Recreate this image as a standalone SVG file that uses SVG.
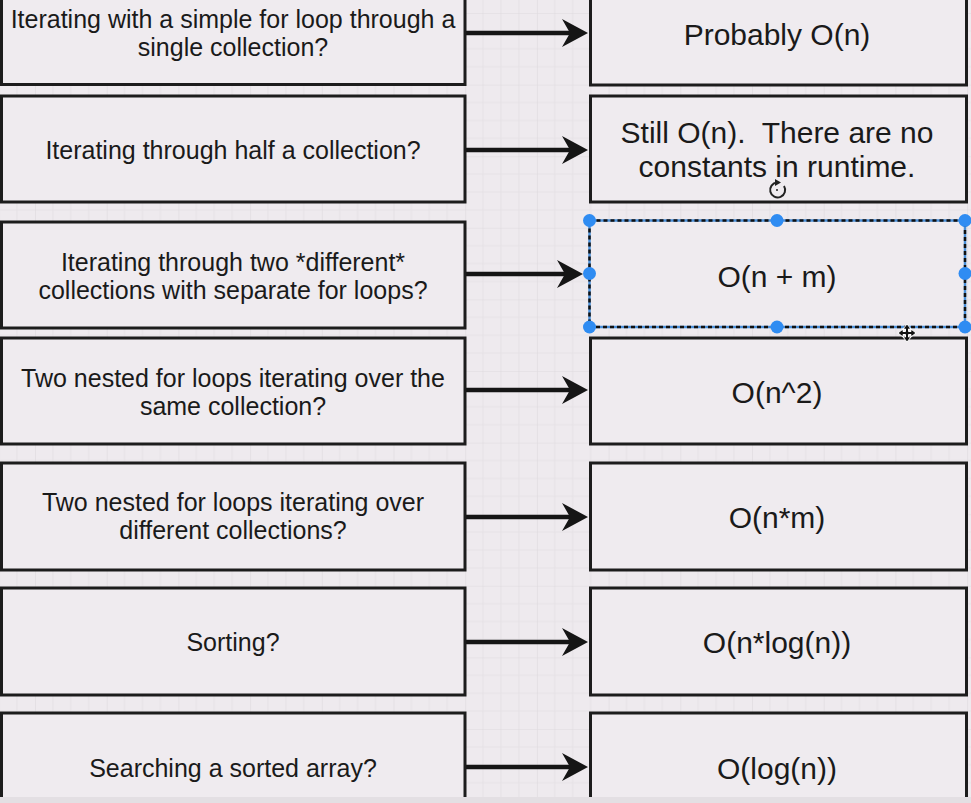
<svg xmlns="http://www.w3.org/2000/svg" width="971" height="803" viewBox="0 0 971 803">
  <style>
    .box { fill: #efebef; stroke: #1c1c1c; stroke-width: 3; }
    .lt { font-family: "Liberation Sans", Arial, Helvetica, sans-serif; font-size: 25px; fill: #1a1a1a; text-anchor: middle; }
    .rt { font-family: "Liberation Sans", Arial, Helvetica, sans-serif; font-size: 30px; fill: #1a1a1a; text-anchor: middle; }
    .conn { stroke: #151515; stroke-width: 4.5; fill: none; marker-end: url(#arrow); }
    .handle { fill: #2f8cf2; }
  </style>
  <defs>
    <pattern id="grid" patternUnits="userSpaceOnUse" x="35" y="13" width="71.7" height="71.6">
      <rect width="71.7" height="71.6" fill="#eeeaee"/>
      <path d="M17.9,0 V71.6 M35.8,0 V71.6 M53.7,0 V71.6 M0,17.9 H71.7 M0,35.8 H71.7 M0,53.7 H71.7" stroke="#e6e2e6" stroke-width="1"/>
      <path d="M0,0 V71.6 M0,0 H71.7" stroke="#dedade" stroke-width="1.2"/>
    </pattern>
    <marker id="arrow" markerUnits="userSpaceOnUse" viewBox="0 0 26 28" refX="14" refY="14" markerWidth="26" markerHeight="28" orient="auto">
      <path d="M0,0 L26,14 L0,28 L8,14 Z" fill="#151515"/>
    </marker>
  </defs>

  <rect x="0" y="0" width="971" height="803" fill="url(#grid)"/>

  <g id="connectors">
    <line class="conn" x1="466" y1="33" x2="576" y2="33"/>
    <line class="conn" x1="466" y1="150" x2="576" y2="150"/>
    <line class="conn" x1="466" y1="274" x2="571" y2="274"/>
    <line class="conn" x1="466" y1="390" x2="576" y2="390"/>
    <line class="conn" x1="466" y1="517" x2="576" y2="517"/>
    <line class="conn" x1="466" y1="642" x2="576" y2="642"/>
    <line class="conn" x1="466" y1="767" x2="576" y2="767"/>
  </g>

  <g id="q1">
    <rect class="box" x="1.5" y="-30" width="463.5" height="114.5"/>
    <text class="lt" x="233" y="28">Iterating with a simple for loop through a</text>
    <text class="lt" x="233" y="56">single collection?</text>
  </g>
  <g id="a1">
    <rect class="box" x="590.5" y="-30" width="376" height="115"/>
    <text class="rt" x="777" y="45">Probably O(n)</text>
  </g>

  <g id="q2">
    <rect class="box" x="1.5" y="96" width="463.5" height="106"/>
    <text class="lt" x="233" y="159">Iterating through half a collection?</text>
  </g>
  <g id="a2">
    <rect class="box" x="590.5" y="96" width="376" height="106"/>
    <text class="rt" x="777" y="143" xml:space="preserve">Still O(n).  There are no</text>
    <text class="rt" x="777" y="177">constants in runtime.</text>
  </g>

  <g id="q3">
    <rect class="box" x="1.5" y="222" width="463.5" height="106"/>
    <text class="lt" x="233" y="271">Iterating through two *different*</text>
    <text class="lt" x="233" y="299">collections with separate for loops?</text>
  </g>
  <g id="a3">
    <rect x="589.5" y="220.5" width="375.5" height="106.5" fill="#efebef" stroke="#4a8fd8" stroke-width="2.5"/>
    <rect x="589.5" y="220.5" width="375.5" height="106.5" fill="none" stroke="#111111" stroke-width="2.5" stroke-dasharray="4 3"/>
    <text class="rt" x="777" y="287">O(n + m)</text>
    <circle class="handle" cx="589.5" cy="220.5" r="6.5"/>
    <circle class="handle" cx="777" cy="220.5" r="6.5"/>
    <circle class="handle" cx="965" cy="220.5" r="6.5"/>
    <circle class="handle" cx="589.5" cy="273.5" r="6.5"/>
    <circle class="handle" cx="965" cy="273.5" r="6.5"/>
    <circle class="handle" cx="589.5" cy="327" r="6.5"/>
    <circle class="handle" cx="777" cy="327" r="6.5"/>
    <circle class="handle" cx="965" cy="327" r="6.5"/>
  </g>

  <g id="q4">
    <rect class="box" x="1.5" y="338" width="463.5" height="106"/>
    <text class="lt" x="233" y="387">Two nested for loops iterating over the</text>
    <text class="lt" x="233" y="415">same collection?</text>
  </g>
  <g id="a4">
    <rect class="box" x="590.5" y="338" width="376" height="106"/>
    <text class="rt" x="777" y="403">O(n^2)</text>
  </g>

  <g id="q5">
    <rect class="box" x="1.5" y="463" width="463.5" height="107"/>
    <text class="lt" x="233" y="511">Two nested for loops iterating over</text>
    <text class="lt" x="233" y="539">different collections?</text>
  </g>
  <g id="a5">
    <rect class="box" x="590.5" y="463" width="376" height="107"/>
    <text class="rt" x="777" y="528">O(n*m)</text>
  </g>

  <g id="q6">
    <rect class="box" x="1.5" y="588" width="463.5" height="107"/>
    <text class="lt" x="233" y="651">Sorting?</text>
  </g>
  <g id="a6">
    <rect class="box" x="590.5" y="588" width="376" height="107"/>
    <text class="rt" x="777" y="653">O(n*log(n))</text>
  </g>

  <g id="q7">
    <rect class="box" x="1.5" y="713" width="463.5" height="120"/>
    <text class="lt" x="233" y="777">Searching a sorted array?</text>
  </g>
  <g id="a7">
    <rect class="box" x="590.5" y="713" width="376" height="120"/>
    <text class="rt" x="777" y="779">O(log(n))</text>
  </g>

  <rect x="0" y="797" width="971" height="6" fill="#e3dfe3"/>

  <g id="cursors">
    <path d="M784,186 A7.5,7.5 0 1 1 777,182.5" fill="none" stroke="#222" stroke-width="2"/>
    <path d="M775,179 L781,182.5 L775,186 Z" fill="#222"/>
    <circle cx="777" cy="190" r="1" fill="#222"/>
    <g transform="translate(907,333)" fill="#111" stroke="#fff" stroke-width="1">
      <path d="M0,-9 L4,-4 L1.5,-4 L1.5,-1.5 L4,-1.5 L4,-4 L9,0 L4,4 L4,1.5 L1.5,1.5 L1.5,4 L4,4 L0,9 L-4,4 L-1.5,4 L-1.5,1.5 L-4,1.5 L-4,4 L-9,0 L-4,-4 L-4,-1.5 L-1.5,-1.5 L-1.5,-4 L-4,-4 Z"/>
    </g>
  </g>
</svg>
